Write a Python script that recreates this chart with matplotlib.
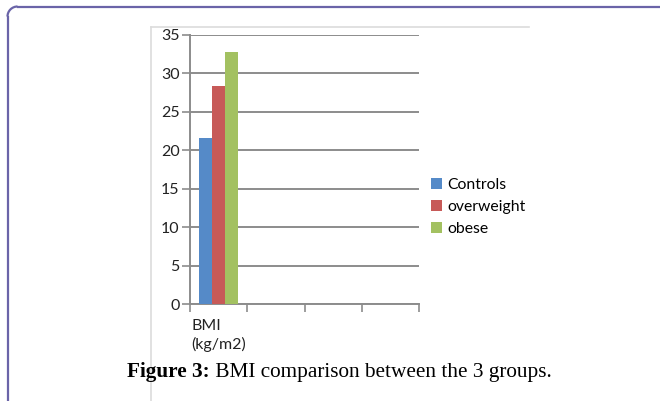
import numpy as np
import matplotlib
matplotlib.use('Agg')
from matplotlib import pyplot as plt
from matplotlib.patches import Arc

categories = ['BMI\n(kg/m2)', '', '', '']
groups = ['Controls', 'overweight', 'obese']
controls = [21.6, np.nan, np.nan, np.nan]
overweight = [28.3, np.nan, np.nan, np.nan]
obese = [32.7, np.nan, np.nan, np.nan]
yticks = [0, 5, 10, 15, 20, 25, 30, 35]
caption_bold = 'Figure 3:'
caption_rest = ' BMI comparison between the 3 groups.'

colors = ['#558ac8', '#c75a58', '#a3c161']
grid_col = '#8c8c8c'

fig = plt.figure(figsize=(6.6, 4.01), dpi=100)

# page decoration in pixel coordinates
bg = fig.add_axes([0, 0, 1, 1])
bg.set_xlim(0, 660)
bg.set_ylim(401, 0)
bg.axis('off')
r = 10
purple = '#6a64a8'
bg.plot([7.5 + r, 661], [6.5, 6.5], color=purple, lw=1.6)
bg.plot([7.5, 7.5], [6.5 + r, 402], color=purple, lw=1.6)
bg.add_patch(Arc((7.5 + r, 6.5 + r), 2 * r, 2 * r, theta1=180, theta2=270,
                 color=purple, lw=1.6))
bg.plot([150.5, 150.5], [27, 402], color='#dcdcdc', lw=1.2)
bg.plot([150.5, 529], [27, 27], color='#dcdcdc', lw=1.2)

ax = fig.add_axes([190 / 660, 1 - 304 / 401, 229 / 660, 269.3 / 401])
x = np.arange(len(categories))
w = 0.228
for i, (vals, name) in enumerate(zip([controls, overweight, obese], groups)):
    ax.bar(x + (i - 1) * w, vals, w, color=colors[i], label=name, zorder=3)

ax.set_xlim(-0.5, len(categories) - 0.5)
ax.set_ylim(0, 35)
ax.set_yticks(yticks)
ax.yaxis.grid(True, color=grid_col, lw=1.4, zorder=0)
ax.set_xticks(x)
ax.set_xticklabels(categories, fontfamily='Lato', fontsize=11.5, color='#222222',
                   ha='center', multialignment='left', linespacing=1.3)
ax.set_xticks(np.arange(len(categories) + 1) - 0.5, minor=True)
ax.tick_params(axis='x', which='major', length=0, pad=11)
ax.tick_params(axis='x', which='minor', length=5.5, width=1.2, color=grid_col)
ax.tick_params(axis='y', length=5.5, width=1.2, color=grid_col, pad=2,
               labelsize=11.5, labelcolor='#222222')
for lab in ax.get_yticklabels():
    lab.set_fontfamily('Lato')
for s in ['top', 'right']:
    ax.spines[s].set_visible(False)
for s in ['left', 'bottom']:
    ax.spines[s].set_color(grid_col)
    ax.spines[s].set_linewidth(1.4)

leg = ax.legend(loc='upper left', bbox_to_anchor=(423 / 660, 1 - 170 / 401),
                bbox_transform=fig.transFigure, frameon=False,
                handlelength=0.7, handleheight=0.7, handletextpad=0.35,
                labelspacing=0.5, borderpad=0,
                prop={'family': 'Lato', 'size': 11.3})

# caption: bold part then regular part
t1 = fig.text(127 / 660, 1 - 372 / 401, caption_bold, fontfamily='Liberation Serif',
              fontweight='bold', fontsize=15.3, va='center', ha='left')
fig.canvas.draw()
bb = t1.get_window_extent()
fig.text(bb.x1 / 660, 1 - 372 / 401, caption_rest, fontfamily='Liberation Serif',
         fontsize=15.3, va='center', ha='left')

plt.savefig('out.png', dpi=100)
